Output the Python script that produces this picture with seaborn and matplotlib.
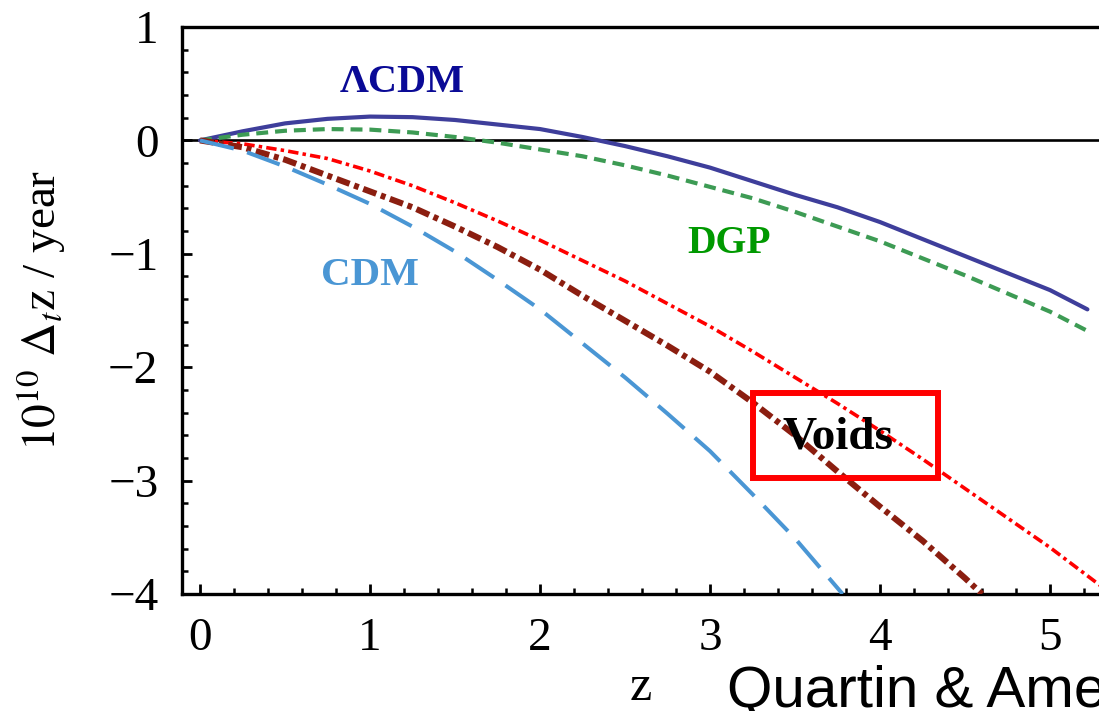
import numpy as np
import pandas as pd
import matplotlib
matplotlib.use("Agg")
import matplotlib.pyplot as plt
from matplotlib.ticker import MultipleLocator
from matplotlib.patches import Rectangle
import seaborn as sns

# Redshift drift predictions, 10^10 Δt z per year, versus redshift z
z_lcdm = [0, 0.25, 0.5, 0.75, 1.0, 1.25, 1.5, 1.75, 2.0, 2.25, 2.5, 2.75, 3.0,
          3.25, 3.5, 3.75, 4.0, 4.25, 4.5, 4.75, 5.0, 5.22]
dz_lcdm = [0, 0.08, 0.15, 0.19, 0.21, 0.205, 0.18, 0.14, 0.10, 0.03, -0.05,
           -0.14, -0.24, -0.36, -0.48, -0.59, -0.72, -0.87, -1.02, -1.17,
           -1.32, -1.49]

z_dgp = z_lcdm
dz_dgp = [0, 0.05, 0.085, 0.10, 0.095, 0.07, 0.03, -0.02, -0.08, -0.14,
          -0.22, -0.31, -0.41, -0.51, -0.63, -0.76, -0.89, -1.04, -1.19,
          -1.35, -1.51, -1.68]

z_void1 = [0, 0.25, 0.5, 0.75, 1.0, 1.25, 1.5, 1.75, 2.0, 2.25, 2.5, 2.75, 3.0,
           3.25, 3.5, 3.75, 4.0, 4.25, 4.5, 4.75, 5.0, 5.3]
dz_void1 = [0, -0.03, -0.09, -0.16, -0.27, -0.40, -0.55, -0.71, -0.88, -1.06,
            -1.24, -1.44, -1.64, -1.86, -2.09, -2.32, -2.56, -2.81, -3.07,
            -3.33, -3.59, -3.93]

z_void2 = [0, 0.25, 0.5, 0.75, 1.0, 1.25, 1.5, 1.75, 2.0, 2.25, 2.5, 2.75, 3.0,
           3.25, 3.5, 3.75, 4.0, 4.25, 4.5, 4.6]
dz_void2 = [0, -0.06, -0.17, -0.31, -0.45, -0.59, -0.76, -0.94, -1.14, -1.37,
            -1.59, -1.81, -2.04, -2.31, -2.60, -2.92, -3.23, -3.53, -3.86, -4.0]

z_cdm = [0, 0.25, 0.5, 0.75, 1.0, 1.25, 1.5, 1.75, 2.0, 2.25, 2.5, 2.75, 3.0,
         3.25, 3.5, 3.78]
dz_cdm = [0, -0.09, -0.23, -0.39, -0.56, -0.76, -0.98, -1.23, -1.49, -1.79,
          -2.09, -2.41, -2.74, -3.12, -3.51, -4.0]

x_ticks = [0, 1, 2, 3, 4, 5]
y_ticks = [1, 0, -1, -2, -3, -4]

sns.set_theme(style="white")
plt.rcParams["font.family"] = ["Liberation Serif", "DejaVu Serif"]
plt.rcParams["mathtext.fontset"] = "stix"
plt.rcParams["lines.scale_dashes"] = False

fig = plt.figure(figsize=(10.99, 7.11), dpi=100)
# the axes run past the right edge of the canvas
ax = fig.add_axes([182 / 1099, 117 / 711, (1135 - 182) / 1099, 567 / 711])

ax.axhline(0, color="black", lw=1.9, zorder=1)

sns.lineplot(x=z_lcdm, y=dz_lcdm, ax=ax, color="#3e3e9b", lw=3.0,
             linestyle="-", sort=False, zorder=3)
sns.lineplot(x=z_dgp, y=dz_dgp, ax=ax, color="#3d9b54", lw=3.0,
             linestyle=(0, (8.6, 5.0)), sort=False, zorder=3)
sns.lineplot(x=z_void1, y=dz_void1, ax=ax, color="#ff0000", lw=2.6,
             linestyle=(0, (7.5, 3.0, 2.5, 3.0)), sort=False, zorder=3)
sns.lineplot(x=z_void2, y=dz_void2, ax=ax, color="#8b1e10", lw=4.4,
             linestyle=(0, (10, 3.5, 3.5, 3.5)), sort=False, zorder=3)
sns.lineplot(x=z_cdm, y=dz_cdm, ax=ax, color="#4a96d4", lw=2.9,
             linestyle=(0, (25, 10)), sort=False, zorder=3)

ax.set_xlim(-0.106, 5.5)
ax.set_ylim(-4, 1)
ax.set_xticks(x_ticks)
ax.set_yticks(y_ticks)
ax.set_xticklabels([str(t) for t in x_ticks])
ax.set_yticklabels([str(t).replace("-", "\u2212") for t in y_ticks])
ax.xaxis.set_minor_locator(MultipleLocator(0.2))
ax.yaxis.set_minor_locator(MultipleLocator(0.2))
ax.tick_params(axis="both", which="both", direction="in", colors="black",
               labelsize=34, bottom=True, left=True, top=False, right=False)
ax.tick_params(axis="both", which="major", length=7, width=2.0, pad=17)
ax.tick_params(axis="both", which="minor", length=4.5, width=1.8)
for side in ["left", "bottom", "top", "right"]:
    ax.spines[side].set_color("black")
    ax.spines[side].set_linewidth(2.4)
ax.grid(False)

ax.set_ylabel(r"$10^{10}\ \Delta_t\mathrm{z}$ / year", fontsize=34,
              color="black")
ax.yaxis.set_label_coords(-0.12, 0.5)
ax.set_xlabel("z", fontsize=36, color="black", va="baseline")
ax.xaxis.set_label_coords(0.481, -0.187)

bold = dict(fontweight="bold", ha="center", va="center")
ax.text(1.19, 0.51, "\u039bCDM", color="#0a0a96", fontsize=29, **bold)
ax.text(3.11, -0.91, "DGP", color="#009900", fontsize=28.5, **bold)
ax.text(1.0, -1.19, "CDM", color="#4a96d4", fontsize=29.5, **bold)
ax.text(3.75, -2.62, "Voids", color="black", fontsize=34, **bold, zorder=5)
ax.add_patch(Rectangle((3.25, -2.98), 1.09, 0.75, fill=False,
                       edgecolor="#ff0000", lw=4.3, zorder=4))

fig.text(727 / 1099, 4 / 711, "Quartin & Amendola", fontsize=42,
         family=["Liberation Sans", "DejaVu Sans"], ha="left", va="baseline",
         color="black")

fig.savefig("out.png", dpi=100, facecolor="white")
